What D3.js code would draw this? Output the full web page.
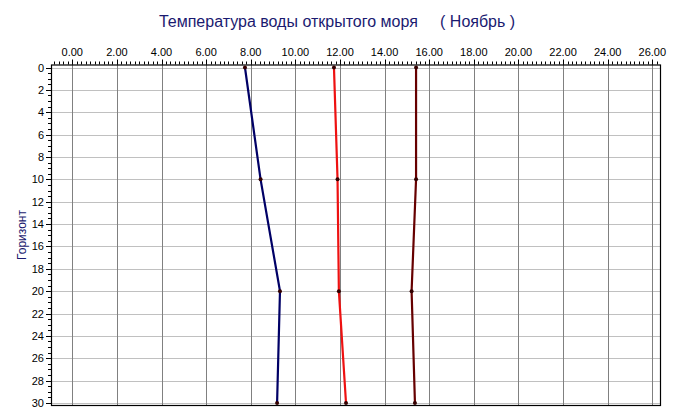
<!DOCTYPE html>
<html><head><meta charset="utf-8">
<script src="https://cdn.jsdelivr.net/npm/d3@7"></script>
<style>body{margin:0;background:#fff}svg{display:block}text{font-family:"Liberation Sans",Arial,sans-serif}</style>
</head><body>
<script>
const depths = [0, 10, 20, 30];
const seriesBlue = [7.74, 8.44, 9.31, 9.18];
const seriesRed = [11.73, 11.89, 11.95, 12.27];
const seriesDark = [15.41, 15.41, 15.21, 15.36];
const xTicks = [0,2,4,6,8,10,12,14,16,18,20,22,24,26];
const yTicks = [0,2,4,6,8,10,12,14,16,18,20,22,24,26,28,30];
const title = "Температура воды открытого моря     ( Ноябрь )";
const yLabel = "Горизонт";

const W = 675, H = 419;
const svg = d3.select("body").append("svg").attr("width", W).attr("height", H);
const L = 51, R = 661, T = 64.5, B = 406;
const x = d3.scaleLinear().domain([0, 26]).range([72.3, 652.3]);
const y = d3.scaleLinear().domain([0, 30]).range([67.5, 403]);

// grid
const g = svg.append("g");
g.selectAll(".hg").data(yTicks).enter().append("line")
  .attr("x1", L).attr("x2", R).attr("y1", d => Math.round(y(d)) + 0.5).attr("y2", d => Math.round(y(d)) + 0.5)
  .attr("stroke", "#c0c0c0").attr("stroke-width", 1);
g.selectAll(".vg").data(xTicks).enter().append("line")
  .attr("y1", T).attr("y2", B).attr("x1", d => Math.round(x(d)) + 0.5).attr("x2", d => Math.round(x(d)) + 0.5)
  .attr("stroke", "#808080").attr("stroke-width", 1);

// border
svg.append("rect").attr("x", L + 0.5).attr("y", T + 0.5).attr("width", R - L - 1).attr("height", B - T - 1)
  .attr("fill", "none").attr("stroke", "#000").attr("stroke-width", 1.2);

// top axis minor ticks
const minorX = d3.range(-0.8, 26.4, 0.2);
svg.append("g").selectAll("line").data(minorX).enter().append("line")
  .attr("x1", d => Math.round(x(d)) + 0.5).attr("x2", d => Math.round(x(d)) + 0.5)
  .attr("y1", T).attr("y2", T - 3).attr("stroke", "#000").attr("stroke-width", 1);
svg.append("g").selectAll("line").data(xTicks).enter().append("line")
  .attr("x1", d => Math.round(x(d)) + 0.5).attr("x2", d => Math.round(x(d)) + 0.5)
  .attr("y1", T).attr("y2", T - 5).attr("stroke", "#000").attr("stroke-width", 1);
svg.append("g").selectAll("text").data(xTicks).enter().append("text")
  .attr("x", d => x(d)).attr("y", 56).attr("text-anchor", "middle")
  .attr("font-size", 11).attr("fill", "#000").text(d => d.toFixed(2));

// left axis ticks
const minorY = d3.range(0, 30.01, 0.5);
svg.append("g").selectAll("line").data(minorY).enter().append("line")
  .attr("y1", d => Math.round(y(d)) + 0.5).attr("y2", d => Math.round(y(d)) + 0.5)
  .attr("x1", L).attr("x2", L - 3).attr("stroke", "#000").attr("stroke-width", 1);
svg.append("g").selectAll("line").data(yTicks).enter().append("line")
  .attr("y1", d => Math.round(y(d)) + 0.5).attr("y2", d => Math.round(y(d)) + 0.5)
  .attr("x1", L).attr("x2", L - 5).attr("stroke", "#000").attr("stroke-width", 1);
svg.append("g").selectAll("text").data(yTicks).enter().append("text")
  .attr("x", 44).attr("y", d => y(d) + 4).attr("text-anchor", "end")
  .attr("font-size", 11).attr("fill", "#000").text(d => d);

// title & y label
svg.append("text").attr("x", 337).attr("y", 27).attr("text-anchor", "middle")
  .attr("font-size", 16).attr("fill", "#1a1a70").style("white-space", "pre").text(title);
svg.append("text").attr("transform", "translate(26,235) rotate(-90)").attr("text-anchor", "middle")
  .attr("font-size", 12).attr("fill", "#1a1a70").text(yLabel);

// series
const series = [
  {vals: seriesBlue, color: "#000066"},
  {vals: seriesRed, color: "#ee1111"},
  {vals: seriesDark, color: "#660000"}
];
const line = d3.line().x(d => x(d[0])).y(d => y(d[1]));
series.forEach(s => {
  const pts = depths.map((dp, i) => [s.vals[i], dp]);
  svg.append("path").attr("d", line(pts)).attr("fill", "none")
    .attr("stroke", s.color).attr("stroke-width", 2.2);
  svg.append("g").selectAll("circle").data(pts).enter().append("circle")
    .attr("cx", d => x(d[0])).attr("cy", d => y(d[1])).attr("r", 2)
    .attr("fill", "#300");
});
</script>
</body></html>
